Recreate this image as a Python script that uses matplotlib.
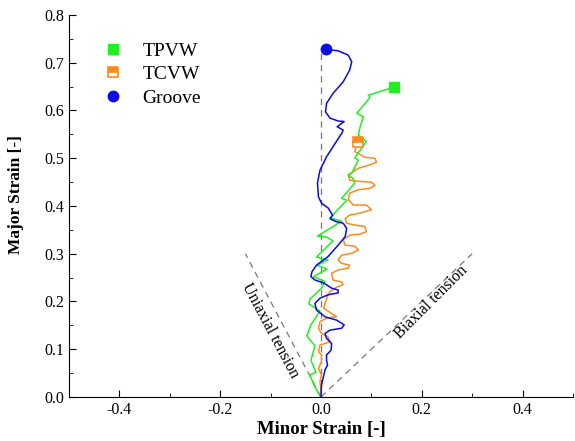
import matplotlib
matplotlib.use('Agg')
import matplotlib.pyplot as plt
from matplotlib.ticker import MultipleLocator

plt.rcParams['font.family'] = ['Liberation Serif', 'DejaVu Serif']

# Groove (blue), from origin to final point
groove_x = [0.0, 0.0, 0.001, 0.005, 0.008, 0.013, 0.011, 0.011, 0.020, 0.021,
            0.011, 0.008, 0.018, 0.041, 0.046, 0.031, 0.008, -0.009, -0.012, -0.002,
            0.014, 0.034, 0.034, 0.021, 0.005, -0.012, -0.020, -0.018, -0.009, 0.014,
            0.034, 0.048, 0.051, 0.044, 0.031, 0.018, 0.023, 0.014, 0.001, -0.005,
            -0.007, -0.002, 0.011, 0.028, 0.041, 0.044, 0.032, 0.046, 0.034, 0.018,
            0.009, 0.011, 0.024, 0.044, 0.057, 0.061, 0.054, 0.034, 0.010]
groove_y = [0.0, 0.004, 0.025, 0.043, 0.057, 0.067, 0.077, 0.088, 0.098, 0.112,
            0.123, 0.133, 0.140, 0.144, 0.151, 0.161, 0.168, 0.182, 0.196, 0.207,
            0.214, 0.218, 0.224, 0.228, 0.239, 0.245, 0.252, 0.262, 0.276, 0.294,
            0.318, 0.336, 0.353, 0.364, 0.367, 0.373, 0.381, 0.396, 0.406, 0.419,
            0.448, 0.475, 0.503, 0.531, 0.552, 0.559, 0.566, 0.577, 0.578, 0.584,
            0.597, 0.615, 0.636, 0.660, 0.685, 0.702, 0.716, 0.725, 0.728]

# TPVW (green), from origin to final point
tpvw_x = [-0.002, -0.014, -0.022, -0.010, -0.020, -0.012, -0.028, -0.020, -0.002, -0.024,
          -0.022, 0.001, 0.008, -0.015, 0.012, -0.008, 0.014, -0.009, 0.024, 0.011,
          -0.007, 0.041, 0.018, 0.051, 0.041, 0.067, 0.064, 0.054, 0.061, 0.074,
          0.067, 0.090, 0.074, 0.077, 0.084, 0.071, 0.097, 0.094, 0.145]
tpvw_y = [0.002, 0.025, 0.046, 0.052, 0.077, 0.107, 0.128, 0.151, 0.180, 0.195,
          0.205, 0.228, 0.242, 0.252, 0.268, 0.276, 0.287, 0.293, 0.327, 0.335,
          0.337, 0.368, 0.375, 0.412, 0.416, 0.448, 0.457, 0.465, 0.469, 0.496,
          0.501, 0.535, 0.549, 0.563, 0.587, 0.594, 0.627, 0.632, 0.649]

# TCVW (orange), from origin to final point
tcvw_x = [0.001, -0.002, 0.001, -0.005, 0.001, 0.001, -0.005, -0.002, 0.008, 0.018,
          0.014, 0.001, -0.005, -0.002, 0.011, 0.031, 0.021, 0.005, 0.008, 0.014,
          0.018, 0.031, 0.044, 0.041, 0.024, 0.021, 0.034, 0.054, 0.057, 0.041,
          0.034, 0.041, 0.061, 0.074, 0.067, 0.048, 0.044, 0.057, 0.077, 0.090,
          0.087, 0.067, 0.051, 0.048, 0.057, 0.077, 0.100, 0.090, 0.064, 0.054,
          0.057, 0.074, 0.097, 0.107, 0.100, 0.081, 0.057, 0.054, 0.074, 0.100,
          0.110, 0.107, 0.087, 0.067, 0.073]
tcvw_y = [0.004, 0.032, 0.046, 0.060, 0.074, 0.088, 0.095, 0.109, 0.112, 0.116,
          0.126, 0.133, 0.144, 0.158, 0.165, 0.168, 0.175, 0.186, 0.196, 0.214,
          0.221, 0.230, 0.235, 0.241, 0.245, 0.259, 0.266, 0.270, 0.276, 0.280,
          0.287, 0.297, 0.301, 0.308, 0.316, 0.318, 0.329, 0.339, 0.341, 0.346,
          0.357, 0.360, 0.364, 0.374, 0.381, 0.385, 0.392, 0.402, 0.402, 0.413,
          0.427, 0.434, 0.437, 0.443, 0.450, 0.451, 0.454, 0.465, 0.479, 0.487,
          0.492, 0.500, 0.502, 0.514, 0.535]

green = '#22ee22'
orange = '#ff8a1c'
blue = '#0a0aeb'
gray = '#777777'

fig = plt.figure(figsize=(5.75, 4.41), dpi=100)
ax = fig.add_axes([0.12, 0.0998, 0.8765, 0.8662])

# reference lines
ax.plot([0, 0], [0, 0.73], ls=(0, (5, 4)), color=gray, lw=0.9)
ax.plot([0, -0.15], [0, 0.3], ls=(0, (5, 4)), color=gray, lw=0.9)
ax.plot([0, 0.3], [0, 0.3], ls=(0, (5, 4)), color=gray, lw=0.9)
ax.text(-0.101, 0.140, 'Uniaxial tension', rotation=-62, fontsize=11.5,
        ha='center', va='center', rotation_mode='anchor')
ax.text(0.219, 0.199, 'Biaxial tension', rotation=45, fontsize=11.5,
        ha='center', va='center', rotation_mode='anchor')

ax.plot(tcvw_x, tcvw_y, color=orange, lw=1.1)
ax.plot(tpvw_x, tpvw_y, color=green, lw=1.1)
ax.plot(groove_x, groove_y, color=blue, lw=1.1)

ax.plot(tpvw_x[-1], tpvw_y[-1], 's', color=green, ms=7)
ax.plot(tcvw_x[-1], tcvw_y[-1], 's', color=orange, ms=7, fillstyle='top',
        markerfacecoloralt='white', mew=1.2)
ax.plot(groove_x[-1], groove_y[-1], 'o', color=blue, ms=7.5)

h1, = ax.plot([], [], 's', color=green, ms=7, label='TPVW')
h2, = ax.plot([], [], 's', color=orange, ms=7, fillstyle='top',
              markerfacecoloralt='white', mew=1.2, label='TCVW')
h3, = ax.plot([], [], 'o', color=blue, ms=7.5, label='Groove')
ax.legend(handles=[h1, h2, h3], loc='upper left', bbox_to_anchor=(0.03, 0.975),
          frameon=False, fontsize=14, handlelength=1.2, handletextpad=0.9,
          labelspacing=0.3)

ax.set_xlim(-0.5, 0.5)
ax.set_ylim(0, 0.8)
ax.xaxis.set_major_locator(MultipleLocator(0.2))
ax.xaxis.set_minor_locator(MultipleLocator(0.1))
ax.yaxis.set_major_locator(MultipleLocator(0.1))
ax.yaxis.set_minor_locator(MultipleLocator(0.05))
ax.xaxis.set_major_formatter(plt.FuncFormatter(lambda v, p: f'{v:.1f}'))
ax.yaxis.set_major_formatter(plt.FuncFormatter(lambda v, p: f'{v:.1f}'))
ax.tick_params(which='both', direction='in', labelsize=11.5)
ax.tick_params(which='major', length=5)
ax.tick_params(which='minor', length=3)
ax.spines['top'].set_visible(False)
ax.spines['right'].set_visible(False)

ax.set_xlabel('Minor Strain [-]', fontsize=13.5, fontweight='bold', labelpad=2)
ax.set_ylabel('Major Strain [-]', fontsize=12.5, fontweight='bold')
ax.yaxis.set_label_coords(-0.09, 0.531)

fig.savefig('out.png', dpi=100)
